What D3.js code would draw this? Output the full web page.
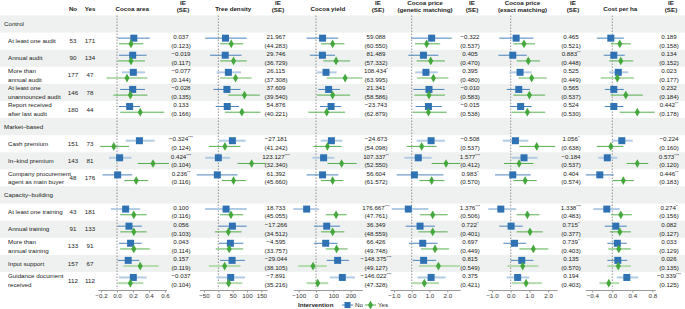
<!DOCTYPE html>
<html>
<head>
    <script src="https://cdnjs.cloudflare.com/ajax/libs/d3/7.8.5/d3.min.js"></script>
    <style>
        body { margin: 0; background: #fff; }
        svg { font-family: "Liberation Sans", Arial, sans-serif; }
    </style>
</head>
<body>
    <svg id="chart" width="685" height="309"></svg>

    <script>
        // rows (section headers included), top to bottom
        const rowLabels = [
            "Control", "At least one audit", "Annual audit", "More than\nannual audit",
            "At least one\nunannounced audit", "Report received\nafter last audit",
            "Market–based", "Cash premium", "In–kind premium", "Company procurement\nagent as main buyer",
            "Capacity–building", "At least one training", "Annual training", "More than\nannual training",
            "Input support", "Guidance document\nreceived"
        ];
        const headerRows = [0, 6, 10];

        // group sizes per intervention row
        const nNo  = [53, 90, 177, 146, 180, 151, 143, 48, 43, 91, 133, 157, 112];
        const nYes = [171, 134, 47, 78, 44, 73, 81, 176, 181, 133, 91, 67, 112];

        // rows whose interval is drawn faint
        const faintNo  = [2, 5, 6, 8, 12];
        const faintYes = [2, 11, 12];

        // [estimate, low, high] for each row
        const areaNo = [[0.21,0.008,0.41],[0.196,0.025,0.37],[0.204,0.06,0.35],[0.196,0.04,0.35],[0.158,0.025,0.29],
            [0.28,0.11,0.47],[0.033,-0.1,0.18],[0.008,-0.18,0.19],
            [0.108,-0.075,0.29],[0.15,0.008,0.31],[0.17,0.025,0.31],[0.14,0.008,0.28],[0.204,0.025,0.37]];
        const areaYes = [[0.175,0.025,0.33],[0.175,0.008,0.35],[0.125,-0.13,0.38],[0.167,-0.046,0.38],[0.29,0.04,0.59],
            [-0.04,-0.21,0.15],[0.45,0.26,0.65],[0.24,0.09,0.39],
            [0.21,0.04,0.37],[0.21,0.04,0.37],[0.21,0.04,0.41],[0.29,0.08,0.52],[0.167,0.008,0.33]];
        const areaIE = ["0.037","−0.019","−0.077","−0.028","0.133","−0.324***","0.424***","0.236**",
            "0.100","0.056","0.043","0.157","−0.037"];
        const areaSE = ["0.123","0.117","0.144","0.135","0.166","0.124","0.104","0.116","0.116","0.103","0.114","0.119","0.104"];

        const treeNo = [[25,-46,99],[24,-29,81],[35,-6,79],[30,-17,77],[31,-9,72],
            [49,2,95],[0,-46,41],[-3.5,-75,67],
            [27,-46,99],[49,2,99],[42,2,87],[48,6,93],[43,-6,93]];
        const treeYes = [[45,6,87],[53,6,99],[60,6,116],[91,35,145],[82,23,147],
            [23,-33,77],[116,67,165],[53,12,96],
            [44,5,87],[35,-12,81],[38,-9,87],[22,-33,77],[36,-3,84]];
        const treeIE = ["21.967","29.746","26.115","37.609","54.876","−27.181","123.127***","61.392",
            "18.733","−17.266","−4.595","−29.044","−7.891"];
        const treeSE = ["44.283","36.729","37.308","39.540","40.221","41.242","32.340","45.660","45.055","34.512","33.757","38.105","35.216"];

        const yieldNo = [[38,-54,129],[37,-35,110],[58,4,119],[73,13,139],[87,23,145],
            [89,27,152],[44,-21,106],[38,-54,129],
            [-54,-131,17],[62,-12,139],[56,-12,125],[125,62,191],[152,81,225]];
        const yieldYes = [[96,29,164],[116,42,197],[168,62,268],[96,4,197],[62,-44,168],
            [66,-15,148],[148,67,235],[96,29,158],
            [116,56,177],[96,29,164],[119,56,183],[-17,-102,62],[10,-54,71]];
        const yieldIE = ["59.088","81.489","108.434*","21.341","−23.743","−24.673","107.337**","56.604",
            "176.667***","36.349","66.426","−148.375***","−146.022***"];
        const yieldSE = ["60.550","57.332","63.995","58.586","62.879","54.098","52.550","61.572","47.761","48.559","49.748","49.127","47.328"];

        const genNo = [[1.12,-0.04,2.25],[0.66,-0.19,1.5],[0.8,0.19,1.46],[0.97,0.09,1.84],[0.94,0.22,1.69],
            [1.09,0.28,1.87],[0.37,-0.41,1.12],[0.15,-0.84,1.78],
            [-0.19,-1.12,0.94],[0.47,-0.34,1.31],[0.62,-0.15,1.46],[0.67,0.06,1.37],[1.09,0.32,1.91]];
        const genYes = [[0.84,0.19,1.6],[1.07,0.28,1.87],[1.22,0.28,2.06],[0.97,0.15,1.87],[0.94,0.06,1.97],
            [0.56,-0.28,1.4],[1.93,1.12,2.72],[1.12,0.43,1.84],
            [1.18,0.47,2.02],[1.18,0.37,2.02],[1.31,0.52,2.1],[1.5,0.41,2.72],[0.71,-0.04,1.54]];
        const genIE = ["−0.322","0.405","0.395","−0.010","−0.015","−0.508","1.577***","0.983*",
            "1.376***","0.722*","0.697","0.815","0.375"];
        const genSE = ["0.537","0.470","0.480","0.583","0.538","0.537","0.412","0.570","0.506","0.401","0.449","0.549","0.421"];

        const exactNo = [[0.29,-0.61,1.21],[0.11,-0.66,0.86],[0.5,-0.07,1.12],[0.43,-0.21,1.03],[0.53,-0.04,1.12],
            [0.25,-0.43,0.94],[0.71,0.05,1.43],[0.11,-0.84,1.07],
            [-0.53,-1.2,0.29],[0.02,-0.61,0.64],[0.2,-0.39,0.82],[0.59,0,1.21],[0.37,-0.21,1.0]];
        const exactYes = [[0.71,0.14,1.3],[0.94,0.32,1.57],[1.12,0.41,1.93],[1.0,0.14,1.84],[0.89,0.05,1.84],
            [1.39,0.46,2.37],[0.45,-0.36,1.21],[0.77,0.14,1.39],
            [0.89,0.32,1.53],[1.03,0.32,1.71],[1.21,0.46,2.01],[0.64,-0.18,1.48],[0.82,0.05,1.66]];
        const exactIE = ["0.465","0.883**","0.525","0.565","0.524","1.056*","−0.184","0.404",
            "1.338***","0.715*","0.739*","0.135","0.194"];
        const exactSE = ["0.521","0.448","0.449","0.537","0.530","0.638","0.537","0.574","0.483","0.377","0.403","0.570","0.403"];

        const costNo = [[-0.03,-0.31,0.23],[0.03,-0.17,0.25],[0.12,-0.06,0.32],[0.03,-0.15,0.23],[0.03,-0.15,0.22],
            [0.19,-0.01,0.41],[-0.1,-0.28,0.1],[-0.25,-0.53,0.03],
            [-0.11,-0.38,0.15],[0.07,-0.15,0.29],[0.1,-0.1,0.29],[0.11,-0.1,0.3],[0.29,0.09,0.52]];
        const costYes = [[0.15,-0.03,0.37],[0.17,-0.06,0.42],[0.1,-0.23,0.43],[0.27,-0.03,0.61],[0.5,0.15,0.85],
            [-0.03,-0.31,0.22],[0.5,0.29,0.72],[0.22,0.01,0.43],
            [0.17,-0.03,0.39],[0.15,-0.05,0.37],[0.13,-0.08,0.37],[0.12,-0.1,0.37],[-0.07,-0.26,0.14]];
        const costIE = ["0.189","0.134","0.023","0.232","0.442**","−0.224","0.573***","0.446**",
            "0.274*","0.082","0.033","0.026","−0.339***"];
        const costSE = ["0.158","0.152","0.177","0.184","0.178","0.160","0.120","0.183","0.156","0.127","0.129","0.135","0.125"];

        const panels = [
            { title: ["Cocoa area"], no: areaNo, yes: areaYes, ie: areaIE, se: areaSE,
              domain: [-0.24, 0.62], range: [97.8, 166.6], ticks: [-0.2, 0, 0.2, 0.4, 0.6], ieX: 181 },
            { title: ["Tree density"], no: treeNo, yes: treeYes, ie: treeIE, se: treeSE,
              domain: [-66, 170], range: [199.4, 267.1], ticks: [-50, 0, 50, 100, 150], ieX: 276 },
            { title: ["Cocoa yield"], no: yieldNo, yes: yieldYes, ie: yieldIE, se: yieldSE,
              domain: [-131, 268], range: [293.3, 362.4], ticks: [-100, 0, 100, 200], ieX: 376 },
            { title: ["Cocoa price", "(genetic matching)"], no: genNo, yes: genYes, ie: genIE, se: genSE,
              domain: [-1.22, 2.72], range: [390, 460.1], ticks: [-1, 0, 1, 2], ieX: 470 },
            { title: ["Cocoa price", "(exact matching)"], no: exactNo, yes: exactYes, ie: exactIE, se: exactSE,
              domain: [-1.22, 2.48], range: [487.9, 557.1], ticks: [-1, 0, 1, 2], ieX: 571 },
            { title: ["Cost per ha"], no: costNo, yes: costYes, ie: costIE, se: costSE,
              domain: [-0.54, 0.86], range: [585.3, 655.3], ticks: [-0.4, 0, 0.4, 0.8], ieX: 669 }
        ];

        const width = 685;
        const yTop = 15.5, yBottom = 289;
        const blue = "#2f72b4", blueLine = "#4a83bd", blueFaint = "#b3cce6";
        const green = "#45a83d", greenLine = "#56b04e", greenFaint = "#b4dcad";
        const fs = 6.2;

        const svg = d3.select("#chart");

        const y = d3.scaleBand()
            .domain(d3.range(rowLabels.length))
            .range([yTop, yBottom]);

        // item rows only (skip section headers)
        const itemRows = d3.range(rowLabels.length).filter(i => !headerRows.includes(i));

        // zebra background
        svg.selectAll("rect.band")
            .data(d3.range(rowLabels.length).filter(i => i % 2 === 0))
            .enter().append("rect")
            .attr("x", 0)
            .attr("y", d => y(d))
            .attr("width", width)
            .attr("height", y.bandwidth())
            .attr("fill", "#eef1ef");

        // header
        const head = svg.append("g")
            .attr("font-weight", "bold")
            .attr("font-size", fs)
            .attr("fill", "#222")
            .attr("text-anchor", "middle");
        head.append("text").attr("x", 73).attr("y", 11).text("No");
        head.append("text").attr("x", 90).attr("y", 11).text("Yes");

        // row labels
        const labels = svg.append("g").attr("font-size", fs).attr("fill", "#222");
        rowLabels.forEach((lab, i) => {
            const lines = lab.split("\n");
            const cy = y(i) + y.bandwidth() / 2;
            const isHead = headerRows.includes(i);
            lines.forEach((ln, k) => {
                labels.append("text")
                    .attr("x", isHead ? 4 : 8)
                    .attr("y", cy + (k - (lines.length - 1) / 2) * 8.4)
                    .attr("dy", "0.35em")
                    .text(ln);
            });
        });

        // group sizes
        const counts = svg.append("g").attr("font-size", fs).attr("fill", "#222").attr("text-anchor", "middle");
        itemRows.forEach((r, j) => {
            const cy = y(r) + y.bandwidth() / 2;
            counts.append("text").attr("x", 73).attr("y", cy).attr("dy", "0.35em").text(nNo[j]);
            counts.append("text").attr("x", 90).attr("y", cy).attr("dy", "0.35em").text(nYes[j]);
        });

        panels.forEach(p => {
            const x = d3.scaleLinear().domain(p.domain).range(p.range);
            const g = svg.append("g");
            const midX = (p.range[0] + p.range[1]) / 2;

            // titles
            p.title.forEach((t, k) => {
                head.append("text")
                    .attr("x", midX)
                    .attr("y", p.title.length === 1 ? 11 : 5 + k * 7)
                    .text(t);
            });
            head.append("text").attr("x", p.ieX + 2).attr("y", 5).text("IE");
            head.append("text").attr("x", p.ieX + 2).attr("y", 12).text("(SE)");

            // zero reference
            g.append("line")
                .attr("x1", x(0)).attr("x2", x(0))
                .attr("y1", yTop).attr("y2", yBottom)
                .attr("stroke", "#777")
                .attr("stroke-width", 0.8)
                .attr("stroke-dasharray", "1.5,1.5");

            // axis
            const ax = g.append("g")
                .attr("transform", `translate(0,${yBottom + 1})`)
                .call(d3.axisBottom(x).tickValues(p.ticks).tickSize(2.5).tickSizeOuter(0));
            ax.select(".domain").attr("stroke", "#999");
            ax.selectAll(".tick line").attr("stroke", "#999");
            ax.selectAll(".tick text")
                .attr("font-family", "Liberation Sans, Arial, sans-serif")
                .attr("font-size", fs)
                .attr("fill", "#333")
                .attr("y", 4);

            itemRows.forEach((r, j) => {
                const cy = y(r) + y.bandwidth() / 2;
                const yb = cy - 3, yg = cy + 2.7;
                const nb = p.no[j], yv = p.yes[j];
                const fNo = faintNo.includes(j), fYes = faintYes.includes(j);

                g.append("line")
                    .attr("x1", x(nb[1])).attr("x2", x(nb[2]))
                    .attr("y1", yb).attr("y2", yb)
                    .attr("stroke", fNo ? blueFaint : blueLine)
                    .attr("stroke-width", fNo ? 2 : 1);
                g.append("line")
                    .attr("x1", x(yv[1])).attr("x2", x(yv[2]))
                    .attr("y1", yg).attr("y2", yg)
                    .attr("stroke", fYes ? greenFaint : greenLine)
                    .attr("stroke-width", fYes ? 2 : 1);
                g.append("rect")
                    .attr("x", x(nb[0]) - 3.5).attr("y", yb - 3.5)
                    .attr("width", 7).attr("height", 7)
                    .attr("fill", blue);
                g.append("path")
                    .attr("transform", `translate(${x(yv[0])},${yg})`)
                    .attr("d", d3.symbol().type(d3.symbolDiamond).size(22)())
                    .attr("fill", green);

                // IE and SE text
                const m = p.ie[j].match(/^([^*]+)(\**)$/);
                const t = g.append("text")
                    .attr("x", p.ieX)
                    .attr("y", cy - 4.4)
                    .attr("dy", "0.35em")
                    .attr("text-anchor", "middle")
                    .attr("font-size", fs)
                    .attr("fill", "#222");
                t.append("tspan").text(m[1]);
                if (m[2]) {
                    t.append("tspan").attr("font-size", 4.2).attr("dy", -2).text(m[2]);
                }
                g.append("text")
                    .attr("x", p.ieX)
                    .attr("y", cy + 4.2)
                    .attr("dy", "0.35em")
                    .attr("text-anchor", "middle")
                    .attr("font-size", fs)
                    .attr("fill", "#222")
                    .text(`(${p.se[j]})`);
            });
        });

        // legend
        const leg = svg.append("g").attr("font-size", fs).attr("fill", "#222");
        leg.append("text").attr("x", 298).attr("y", 305).attr("dy", "0.35em")
            .attr("font-weight", "bold").text("Intervention");
        leg.append("line").attr("x1", 342).attr("x2", 353).attr("y1", 305).attr("y2", 305)
            .attr("stroke", blueLine).attr("stroke-width", 1);
        leg.append("rect").attr("x", 344.5).attr("y", 302).attr("width", 6).attr("height", 6).attr("fill", blue);
        leg.append("text").attr("x", 355).attr("y", 305).attr("dy", "0.35em").text("No");
        leg.append("line").attr("x1", 365).attr("x2", 376).attr("y1", 305).attr("y2", 305)
            .attr("stroke", greenLine).attr("stroke-width", 1);
        leg.append("path").attr("transform", "translate(370.5,305)")
            .attr("d", d3.symbol().type(d3.symbolDiamond).size(22)()).attr("fill", green);
        leg.append("text").attr("x", 378).attr("y", 305).attr("dy", "0.35em").text("Yes");
    </script>
</body>
</html>
